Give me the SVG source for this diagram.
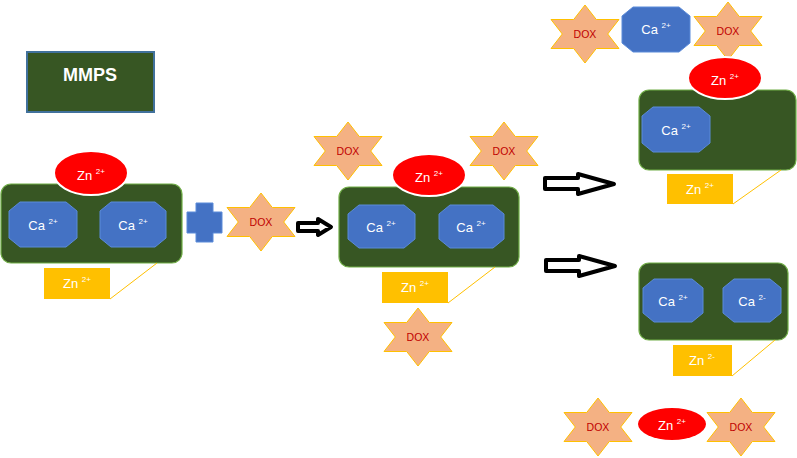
<svg xmlns="http://www.w3.org/2000/svg" width="797" height="458" viewBox="0 0 797 458">
<style>
text{font-family:"Liberation Sans",Arial,sans-serif}
.w{fill:#fff;font-size:13px;text-anchor:middle}
.sup{font-size:8px}
.dox{fill:#c00000;font-size:10.5px;text-anchor:middle}
.star{fill:#f4b183;stroke:#ffc000;stroke-width:1}
.ca{fill:#4472c4;stroke:#5b8bd9;stroke-width:1}
.body{fill:#375623;stroke:#70ad47;stroke-width:1.2}
.zn{fill:#ff0000;stroke:#fff;stroke-width:2}
.znr{fill:#ffc000}
.lead{stroke:#ffc000;stroke-width:1;fill:none}
.arr{fill:#fff;stroke:#000;stroke-width:4;stroke-linejoin:round}
</style>
<defs>
<path id="star" class="star" d="M0,-29 L11.3,-14.5 L34,-14.5 L22.7,0 L34,14.5 L11.3,14.5 L0,29 L-11.3,14.5 L-34,14.5 L-22.7,0 L-34,-14.5 L-11.3,-14.5 Z"/>
</defs>

<g id="mmps">
<rect x="27" y="52" width="127" height="60" fill="#375623" stroke="#41719c" stroke-width="2"/>
<text x="90" y="81" fill="#fff" font-size="18" font-weight="bold" text-anchor="middle">MMPS</text>
</g>

<g id="particle1">
<rect class="body" x="1" y="184" width="181" height="79" rx="10"/>
<ellipse class="zn" cx="91" cy="173" rx="37" ry="22"/>
<text class="w" x="91" y="180">Zn <tspan class="sup" dy="-6">2+</tspan></text>
<polygon class="ca" points="20,202 66,202 77,211 77,238 66,247 20,247 9,238 9,211"/>
<text class="w" x="43" y="230">Ca <tspan class="sup" dy="-6">2+</tspan></text>
<polygon class="ca" points="111,202 155,202 166,211 166,238 155,247 111,247 100,238 100,211"/>
<text class="w" x="133" y="230">Ca <tspan class="sup" dy="-6">2+</tspan></text>
<rect class="znr" x="44" y="268" width="66" height="31"/>
<line class="lead" x1="110" y1="299" x2="157" y2="263"/>
<text class="w" x="77" y="288">Zn <tspan class="sup" dy="-6">2+</tspan></text>
</g>

<g id="plus">
<polygon points="196,203 213,203 213,212 222,212 222,233 213,233 213,242 196,242 196,233 187,233 187,212 196,212" fill="#4472c4" stroke="#5b8bd9" stroke-width="1"/>
</g>

<g id="dox1">
<use href="#star" x="261" y="222"/>
<text class="dox" x="261" y="226">DOX</text>
</g>

<g id="particle2">
<rect class="body" x="339" y="187" width="180" height="80" rx="10"/>
<ellipse class="zn" cx="429" cy="175" rx="37" ry="21"/>
<text class="w" x="429" y="182">Zn <tspan class="sup" dy="-6">2+</tspan></text>
<polygon class="ca" points="359,205 404,205 415,214 415,239 404,248 359,248 348,239 348,214"/>
<text class="w" x="381" y="232">Ca <tspan class="sup" dy="-6">2+</tspan></text>
<polygon class="ca" points="450,205 493,205 504,214 504,239 493,248 450,248 439,239 439,214"/>
<text class="w" x="471" y="232">Ca <tspan class="sup" dy="-6">2+</tspan></text>
<rect class="znr" x="382" y="272" width="66" height="31"/>
<line class="lead" x1="448" y1="303" x2="495" y2="267"/>
<text class="w" x="415" y="292">Zn <tspan class="sup" dy="-6">2+</tspan></text>
</g>

<g id="dox2"><use href="#star" x="348" y="151"/><text class="dox" x="348" y="155">DOX</text></g>
<g id="dox3"><use href="#star" x="504" y="151"/><text class="dox" x="504" y="155">DOX</text></g>
<g id="dox4"><use href="#star" x="418" y="337"/><text class="dox" x="418" y="341">DOX</text></g>

<g id="release-top">
<use href="#star" x="585" y="34"/>
<text class="dox" x="585" y="38">DOX</text>
<polygon class="ca" points="633,7 679,7 690,16 690,43 679,52 633,52 622,43 622,16"/>
<text class="w" x="656" y="34">Ca <tspan class="sup" dy="-6">2+</tspan></text>
<use href="#star" x="728" y="31"/>
<text class="dox" x="728" y="35">DOX</text>
</g>

<g id="particle3">
<rect class="body" x="639" y="90" width="157" height="80" rx="10"/>
<ellipse class="zn" cx="725" cy="78" rx="37" ry="21"/>
<text class="w" x="725" y="85">Zn <tspan class="sup" dy="-6">2+</tspan></text>
<polygon class="ca" points="653,107 699,107 710,116 710,143 699,152 653,152 642,143 642,116"/>
<text class="w" x="676" y="135">Ca <tspan class="sup" dy="-6">2+</tspan></text>
<rect class="znr" x="667" y="174" width="66" height="30"/>
<line class="lead" x1="733" y1="204" x2="781" y2="170"/>
<text class="w" x="700" y="194">Zn <tspan class="sup" dy="-6">2+</tspan></text>
</g>

<g id="particle4">
<rect class="body" x="639" y="263" width="149" height="77" rx="10"/>
<polygon class="ca" points="654,279 692,279 703,288 703,313 692,322 654,322 643,313 643,288"/>
<text class="w" x="673" y="306">Ca <tspan class="sup" dy="-6">2+</tspan></text>
<polygon class="ca" points="734,279 770,279 781,288 781,313 770,322 734,322 723,313 723,288"/>
<text class="w" x="752" y="306">Ca <tspan class="sup" dy="-6">2-</tspan></text>
<rect class="znr" x="673" y="345" width="59" height="31"/>
<line class="lead" x1="732" y1="376" x2="775" y2="340"/>
<text class="w" x="702" y="365">Zn <tspan class="sup" dy="-6">2-</tspan></text>
</g>

<g id="release-bottom">
<use href="#star" x="598" y="427"/>
<text class="dox" x="598" y="431">DOX</text>
<ellipse cx="672" cy="424" rx="34" ry="16" fill="#ff0000"/>
<text class="w" x="672" y="430">Zn <tspan class="sup" dy="-6">2+</tspan></text>
<use href="#star" x="741" y="427"/>
<text class="dox" x="741" y="431">DOX</text>
</g>

<g id="connectors">
<polygon class="arr" points="298,223 318,223 318,219 331,227 318,235 318,231 298,231"/>
<polygon class="arr" points="545,178 578,178 578,174 614,184 578,194 578,189 545,189"/>
<polygon class="arr" points="546,260 579,260 579,256 615,266 579,276 579,271 546,271"/>
</g>
</svg>
